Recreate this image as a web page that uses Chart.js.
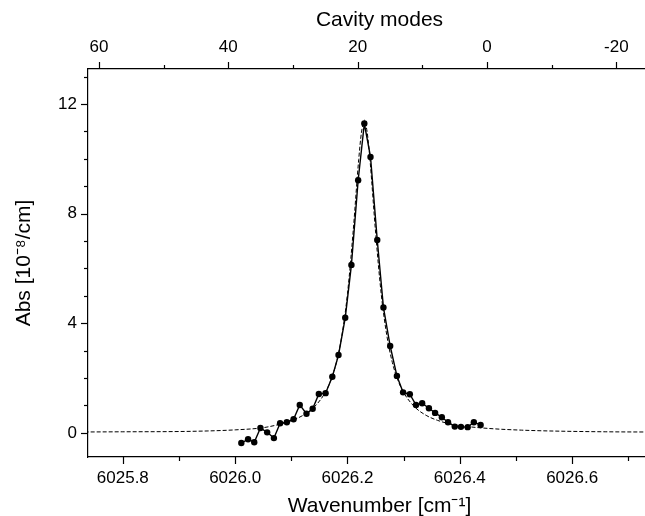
<!DOCTYPE html>
<html>
<head>
<meta charset="utf-8">
<script src="https://cdn.jsdelivr.net/npm/chart.js@4.4.1/dist/chart.umd.min.js"></script>
<style>
    body { margin: 0; background: #fff; overflow: hidden; }
</style>
</head>
<body>
<!-- canvas is a bit wider than the window: the plot's right edge is cut off in the original -->
<canvas id="absChart" width="675" height="516"></canvas>
<script>
// measured points (wavenumber in cm-1, absorption in 1e-8/cm)
const wavenumbers = [6026.011, 6026.023, 6026.034, 6026.045, 6026.057, 6026.069, 6026.080, 6026.092,
    6026.104, 6026.115, 6026.127, 6026.138, 6026.149, 6026.161, 6026.173, 6026.184, 6026.196, 6026.207,
    6026.219, 6026.230, 6026.241, 6026.253, 6026.264, 6026.276, 6026.288, 6026.299, 6026.311, 6026.322,
    6026.333, 6026.345, 6026.356, 6026.368, 6026.379, 6026.391, 6026.402, 6026.414, 6026.425, 6026.437];
const absValues = [-0.37, -0.23, -0.34, 0.18, 0.02, -0.19, 0.35, 0.39,
    0.50, 1.02, 0.70, 0.88, 1.42, 1.45, 2.05, 2.84, 4.20, 6.13,
    9.22, 11.29, 10.07, 7.04, 4.58, 3.17, 2.08, 1.48, 1.41, 1.02,
    1.08, 0.90, 0.73, 0.57, 0.39, 0.23, 0.22, 0.21, 0.39, 0.29];

// dashed fit curve
const fitWavenumbers = [6025.70, 6025.80, 6025.90, 6025.95, 6026.00, 6026.05, 6026.08, 6026.10, 6026.12,
    6026.14, 6026.16, 6026.17, 6026.18, 6026.19, 6026.20, 6026.21, 6026.22, 6026.225, 6026.23, 6026.235,
    6026.24, 6026.25, 6026.26, 6026.27, 6026.28, 6026.29, 6026.30, 6026.32, 6026.34, 6026.36, 6026.38,
    6026.41, 6026.46, 6026.51, 6026.56, 6026.66, 6026.78];
const fitValues = [0.03, 0.04, 0.05, 0.07, 0.11, 0.19, 0.32, 0.45, 0.63,
    0.93, 1.46, 1.90, 2.55, 3.55, 5.08, 7.33, 9.98, 10.98, 11.35, 10.98,
    9.98, 7.33, 5.08, 3.56, 2.56, 1.91, 1.47, 0.94, 0.64, 0.46, 0.34,
    0.24, 0.15, 0.10, 0.07, 0.04, 0.03];

// tick labels
const wnTicks = [6025.8, 6026.0, 6026.2, 6026.4, 6026.6];
const modeTicks = [60, 40, 20, 0, -20];
const absTicks = [0, 4, 8, 12];

const axisFont = { family: 'Arial, "Liberation Sans", sans-serif', size: 17 };
const titleFont = { family: 'Arial, "Liberation Sans", sans-serif', size: 21 };

// draw outward major / minor tick marks like the original plot
function drawTickMarks(ctx, scale, minorStep, majorEvery, side) {
    const kMin = Math.ceil(Math.min(scale.min, scale.max) / minorStep - 1e-6);
    const kMax = Math.floor(Math.max(scale.min, scale.max) / minorStep + 1e-6);
    for (let k = kMin; k <= kMax; k++) {
        const len = (((k % majorEvery) + majorEvery) % majorEvery === 0) ? 7 : 4;
        const p = Math.round(scale.getPixelForValue(k * minorStep)) + 0.5;
        ctx.beginPath();
        if (side === 'bottom') { ctx.moveTo(p, scale.top); ctx.lineTo(p, scale.top + len); }
        if (side === 'top') { ctx.moveTo(p, scale.bottom); ctx.lineTo(p, scale.bottom - len); }
        if (side === 'left') { ctx.moveTo(scale.right, p); ctx.lineTo(scale.right - len, p); }
        ctx.stroke();
    }
}

const tickMarks = {
    id: 'tickMarks',
    afterDraw(chart) {
        const ctx = chart.ctx;
        ctx.save();
        ctx.strokeStyle = '#000';
        ctx.lineWidth = 1.2;
        drawTickMarks(ctx, chart.scales.x, 0.1, 2, 'bottom');
        drawTickMarks(ctx, chart.scales.x2, 10, 2, 'top');
        drawTickMarks(ctx, chart.scales.y, 1, 4, 'left');
        ctx.restore();
    }
};

var ctx = document.getElementById('absChart').getContext('2d');
var absChart = new Chart(ctx, {
    type: 'scatter',
    data: {
        datasets: [{
            label: 'Measured',
            data: wavenumbers.map((w, i) => ({ x: w, y: absValues[i] })),
            showLine: true,
            borderColor: '#000',
            borderWidth: 1.4,
            pointRadius: 3.2,
            pointBackgroundColor: '#000',
            pointBorderWidth: 0,
            order: 1
        }, {
            label: 'Fit',
            data: fitWavenumbers.map((w, i) => ({ x: w, y: fitValues[i] })),
            showLine: true,
            borderColor: '#000',
            borderWidth: 1,
            borderDash: [4, 2],
            pointRadius: 0,
            cubicInterpolationMode: 'monotone',
            order: 2
        }]
    },
    options: {
        responsive: false,
        animation: false,
        layout: { padding: 0 },
        scales: {
            x: {
                type: 'linear',
                position: 'bottom',
                min: 6025.738,
                max: 6026.776,
                afterFit: s => { s.height = 59; },
                afterBuildTicks: s => { s.ticks = wnTicks.map(v => ({ value: v })); },
                grid: { display: false, drawTicks: false },
                border: { display: true, color: '#000', width: 1.2 },
                ticks: {
                    color: '#000', font: axisFont, padding: 11, maxRotation: 0,
                    callback: v => v.toFixed(1)
                },
                title: {
                    display: true, text: 'Wavenumber [cm⁻¹]', color: '#000', font: titleFont,
                    padding: { top: 0, bottom: -3 }
                }
            },
            x2: {
                type: 'linear',
                position: 'top',
                reverse: true,
                min: -28.45,
                max: 61.69,
                afterFit: s => { s.height = 69; },
                afterBuildTicks: s => { s.ticks = modeTicks.map(v => ({ value: v })); },
                grid: { display: false, drawTicks: false },
                border: { display: true, color: '#000', width: 1.2 },
                ticks: { color: '#000', font: axisFont, padding: 11, maxRotation: 0 },
                title: {
                    display: true, text: 'Cavity modes', color: '#000', font: titleFont,
                    padding: { top: 8, bottom: 0 }
                }
            },
            y: {
                type: 'linear',
                position: 'left',
                min: -0.88,
                max: 13.28,
                afterFit: s => { s.width = 88; },
                afterBuildTicks: s => { s.ticks = absTicks.map(v => ({ value: v })); },
                grid: { display: false, drawTicks: false },
                border: { display: true, color: '#000', width: 1.2 },
                ticks: { color: '#000', font: axisFont, padding: 11 },
                title: {
                    display: true, text: 'Abs [10⁻⁸/cm]', color: '#000', font: titleFont,
                    padding: { top: 12, bottom: 0 }
                }
            }
        },
        plugins: {
            legend: { display: false },
            tooltip: { enabled: false }
        }
    },
    plugins: [tickMarks]
});
</script>
</body>
</html>
